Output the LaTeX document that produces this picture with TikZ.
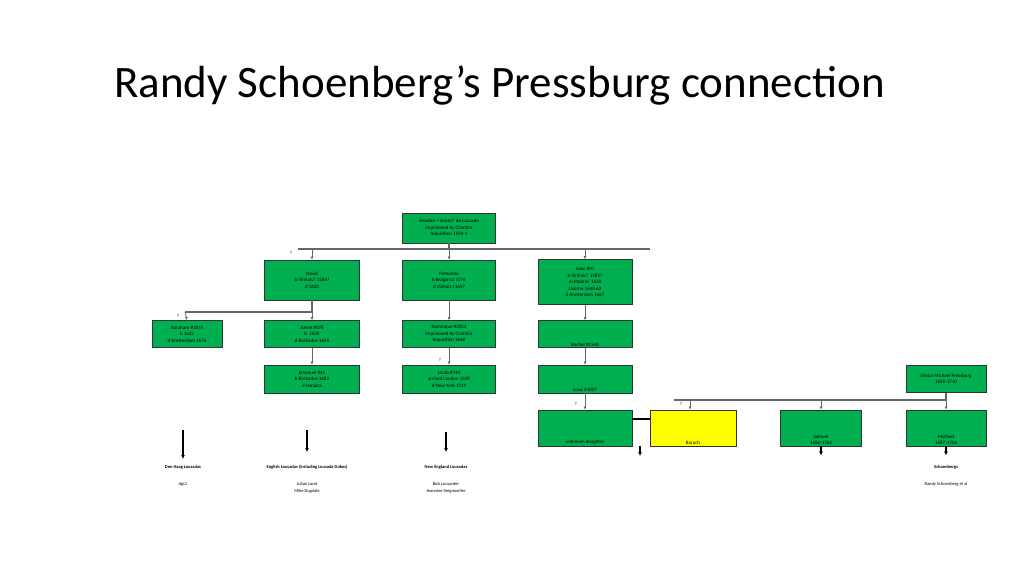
\documentclass[tikz,border=0pt]{standalone}
\usepackage{fontspec}
\setmainfont{Carlito}
\usetikzlibrary{arrows.meta,positioning}
\definecolor{greenb}{RGB}{0,176,80}
\definecolor{yellowb}{RGB}{255,255,0}
\tikzset{
      famblock/.style 2 args={
        draw=black!80,
        fill=#1,
        line width=0.9pt,
        inner sep=0pt,
        align=center,
        font=\fontsize{5}{6.5}\selectfont,
        minimum width=#2,
      },
      lowtext/.style={
        label={[font=\fontsize{5}{6.5}\selectfont,align=center,anchor=south,inner sep=1.5pt]south:#1}
      },
      qmark/.style={font=\fontsize{4.5}{6}\selectfont,inner sep=0pt},
      line/.style={draw=black!60,line width=1.2pt},
      dline/.style={draw=black!60,line width=0.8pt,-{Latex[length=3pt,width=3pt]}},
      bigarrow/.style={line width=1.2pt,-{Latex[length=4pt,width=4pt]}},
      famname/.style={font=\fontsize{4.5}{6}\selectfont\bfseries,inner sep=0pt},
      famtext/.style={font=\fontsize{4.5}{7}\selectfont,align=center,inner sep=0pt},
    }
\begin{document}
\begin{tikzpicture}[x=1pt,y=-1pt]
  \fill[white] (0,0) rectangle (1024,576);
  \node[anchor=west,inner sep=0pt,font=\fontsize{45}{50}\selectfont] (title) at (114,85) {Randy Schoenberg’s Pressburg connection};

  % generation 1
  \node[famblock={greenb}{93pt},minimum height=30pt] (amador) at (449,228)
    {Amador = Avazo? de Louzada\\imprisoned by Coimbra\\Inquisition 1590-1};
  % generation 2
  \node[famblock={greenb}{95pt},minimum height=40pt] (david) at (312,280)
    {David\\b Vinhais? 1584?\\d~1620};
  \node[famblock={greenb}{93pt},minimum height=40pt] (fernando) at (449,280)
    {Fernando\\b Braganca 1576\\d Vinhais c1657};
  \node[famblock={greenb}{94pt},minimum height=45pt] (isaac) at (585,282)
    {Isaac \#47\\b Vinhais? 1585?\\m Madrid ~1638\\Livorno 1640-62\\d Amsterdam 1667};
  % generation 3
  \node[famblock={greenb}{70pt},minimum height=27pt] (abraham) at (187,334)
    {Abraham \#1875\\b~1622\\d Amsterdam 1676};
  \node[famblock={greenb}{95pt},minimum height=27pt] (aaron) at (312,334)
    {Aaron \#378\\b ~1620\\d Barbados 1695};
  \node[famblock={greenb}{93pt},minimum height=27pt] (dominque) at (449,334)
    {Dominque \#2053\\imprisoned by Coimbra\\Inquisition 1660};
  \node[famblock={greenb}{94pt},minimum height=27pt,lowtext={Rachel \#1540}] (rachel) at (585,334) {};
  % generation 4
  \node[famblock={greenb}{95pt},minimum height=28pt] (emanuel) at (312,379)
    {Emanuel \#41\\b Barbados 1682\\d Jamaica};
  \node[famblock={greenb}{93pt},minimum height=28pt] (jacob) at (449,379)
    {Jacob \#740\\arrived London 1698\\d New York 1729};
  \node[famblock={greenb}{94pt},minimum height=28pt,lowtext={Isaac \#1807}] (isaacb) at (585,379) {};
  \node[famblock={greenb}{80pt},minimum height=27pt] (simon) at (946,379)
    {Simon Michael Pressburg\\1656-1710};
  % generation 5
  \node[famblock={greenb}{94pt},minimum height=36pt,lowtext={unknown daughter}] (daughter) at (585,428) {};
  \node[famblock={yellowb}{86pt},minimum height=36pt,lowtext={Baruch}] (baruch) at (693,428) {};
  \node[famblock={greenb}{81pt},minimum height=36pt,lowtext={Samuel\\1686-1762}] (samuel) at (821,428) {};
  \node[famblock={greenb}{80pt},minimum height=36pt,lowtext={Michael\\1687-1756}] (michael) at (946,428) {};

  % connectors
  \coordinate (bar1l) at (298,249);
  \coordinate (bar1r) at (650,249);
  \draw[line] (bar1l) -- (bar1r) (amador) -- (amador|-bar1l);
  \foreach \n in {david,fernando,isaac}
    \draw[dline] (\n|-bar1l) -- (\n.north);
  \node[qmark] (q1) at (291,253) {?};

  \coordinate (bar2l) at (185,312);
  \draw[line] (bar2l) -- (bar2l-|david) (david.south) -- (bar2l-|david);
  \draw[dline] (bar2l) -- (abraham.north);
  \draw[dline] (bar2l-|aaron) -- (aaron.north);
  \node[qmark] (q2) at (178,316) {?};

  \draw[dline] (fernando) -- (dominque);
  \draw[dline] (isaac) -- (rachel);
  \draw[dline] (aaron) -- (emanuel);
  \draw[dline] (dominque) -- (jacob);
  \node[qmark] (q3) at (440,360) {?};
  \draw[dline] (rachel) -- (isaacb);
  \draw[dline] (isaacb) -- (daughter);
  \node[qmark] (q4) at (576,404) {?};

  \coordinate (bar3l) at (674,400);
  \draw[line] (bar3l) -- (bar3l-|simon) (simon.south) -- (bar3l-|simon);
  \draw[dline] (bar3l-|690,0) -- (baruch.north-|690,0);
  \draw[dline] (bar3l-|samuel) -- (samuel.north);
  \draw[dline] (bar3l-|michael) -- (michael.north);
  \node[qmark] (q5) at (681,404) {?};

  \draw[line width=2pt] (daughter.east|-0,419) -- (baruch.west|-0,419);
  \coordinate (child) at (640,456);
  \draw[bigarrow] (640,446) -- (child);
  \draw[bigarrow] (samuel.south) -- ++(0,9);
  \draw[bigarrow] (michael.south) -- ++(0,9);

  % descendant lines
  \draw[bigarrow] (183,430) -- (183,459);
  \draw[bigarrow] (307,430) -- (307,452);
  \draw[bigarrow] (446,432) -- (446,452);

  \node[famname] (denhaag) at (183,467) {Den Haag Louzadas};
  \node[famtext] (dgs) at (183,484) {dgs1};
  \node[famname] (english) at (307,467) {English Lousadas (including Lousada Dukes)};
  \node[famtext] (englishp) at (307,488) {Julian Land\\Mike Dugdale};
  \node[famname] (newengland) at (446,467) {New England Lousadas};
  \node[famtext] (newenglandp) at (446,488) {Bob Lousarder\\Jeannine Stegmueller};
  \node[famname] (schoenbergs) at (946,467) {Schoenbergs};
  \node[famtext] (schoenbergsp) at (946,484) {Randy Schoenberg et al};
\end{tikzpicture}
\end{document}
